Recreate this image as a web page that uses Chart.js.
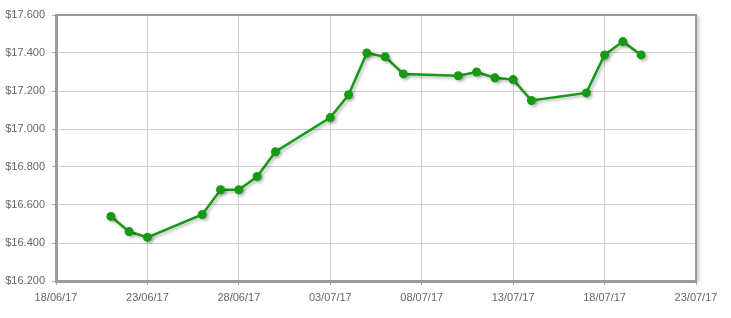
<!DOCTYPE html>
<html>
<head>
<meta charset="utf-8">
<script src="https://cdn.jsdelivr.net/npm/chart.js@4/dist/chart.umd.min.js"></script>
<style>
html,body{margin:0;padding:0;background:#fff;}
#wrap{width:731px;height:318px;position:relative;}
</style>
</head>
<body>
<div id="wrap"><canvas id="c" width="731" height="318"></canvas></div>
<script>
// Data
const dates = ["21/06/17","22/06/17","23/06/17","26/06/17","27/06/17","28/06/17","29/06/17","30/06/17",
  "03/07/17","04/07/17","05/07/17","06/07/17","07/07/17","10/07/17","11/07/17","12/07/17","13/07/17",
  "14/07/17","17/07/17","18/07/17","19/07/17","20/07/17"];
const prices = [16.54,16.46,16.43,16.55,16.68,16.68,16.75,16.88,
  17.06,17.18,17.40,17.38,17.29,17.28,17.30,17.27,17.26,
  17.15,17.19,17.39,17.46,17.39];
const xTickLabels = ["18/06/17","23/06/17","28/06/17","03/07/17","08/07/17","13/07/17","18/07/17","23/07/17"];
const yMin = 16.2, yMax = 17.6, yStep = 0.2;

function toDay(s){
  const [d,m,y] = s.split('/').map(Number);
  return Date.UTC(2000+y, m-1, d) / 86400000;
}
const day0 = toDay(xTickLabels[0]);
const dayEnd = toDay(xTickLabels[xTickLabels.length-1]);
const points = dates.map((d,i)=>({x: toDay(d)-day0, y: prices[i]}));

const green = '#169a16';
const frameColor = '#9a9a9a';

const shadowPlugin = {
  id:'shadow',
  beforeDatasetsDraw(chart){
    const ctx = chart.ctx;
    ctx.save();
    ctx.shadowColor = 'rgba(0,0,0,0.25)';
    ctx.shadowBlur = 3;
    ctx.shadowOffsetX = 2;
    ctx.shadowOffsetY = 2;
  },
  afterDatasetsDraw(chart){ chart.ctx.restore(); }
};
const framePlugin = {
  id:'frame',
  afterDraw(chart){
    const {ctx, chartArea:a} = chart;
    ctx.save();
    ctx.shadowColor = 'rgba(0,0,0,0.3)';
    ctx.shadowBlur = 3;
    ctx.shadowOffsetX = 2;
    ctx.shadowOffsetY = 1;
    ctx.strokeStyle = frameColor;
    ctx.lineWidth = 2;
    ctx.beginPath();
    ctx.moveTo(a.right, a.top);
    ctx.lineTo(a.right, a.bottom);
    ctx.stroke();
    ctx.shadowColor = 'transparent';
    ctx.beginPath();
    ctx.moveTo(a.left-1, a.top);
    ctx.lineTo(a.right+1, a.top);
    ctx.stroke();
    ctx.restore();
  }
};

new Chart(document.getElementById('c'), {
  type:'line',
  data:{
    datasets:[{
      data: points,
      borderColor: green,
      backgroundColor: green,
      borderWidth: 2.5,
      pointRadius: 4.5,
      pointBorderWidth: 0,
      pointBackgroundColor: green,
      tension: 0,
      fill: false
    }]
  },
  plugins:[shadowPlugin, framePlugin],
  options:{
    responsive:false,
    animation:false,
    devicePixelRatio:1,
    layout:{padding:{top:15,right:35,left:0,bottom:0}},
    plugins:{legend:{display:false},tooltip:{enabled:false}},
    scales:{
      x:{
        type:'linear',
        min:0, max: dayEnd-day0,
        afterFit(s){ s.height = 37; },
        ticks:{
          stepSize:5,
          autoSkip:false,
          maxRotation:0,
          color:'#666',
          font:{family:'Liberation Sans', size:11},
          padding:6,
          callback:(v)=>xTickLabels[Math.round(v/5)] ?? ''
        },
        grid:{color:'#cfcfcf', lineWidth:1, tickLength:4, tickColor:'#aaa'},
        border:{color:frameColor, width:3}
      },
      y:{
        min:yMin, max:yMax,
        afterFit(s){ s.width = 56; },
        ticks:{
          stepSize:yStep,
          color:'#666',
          font:{family:'Liberation Sans', size:11},
          padding:7,
          callback:(v)=>'$'+Number(v).toFixed(3)
        },
        grid:{color:'#cfcfcf', lineWidth:1, tickLength:4, tickColor:'#aaa'},
        border:{color:frameColor, width:3}
      }
    }
  }
});
</script>
</body>
</html>
